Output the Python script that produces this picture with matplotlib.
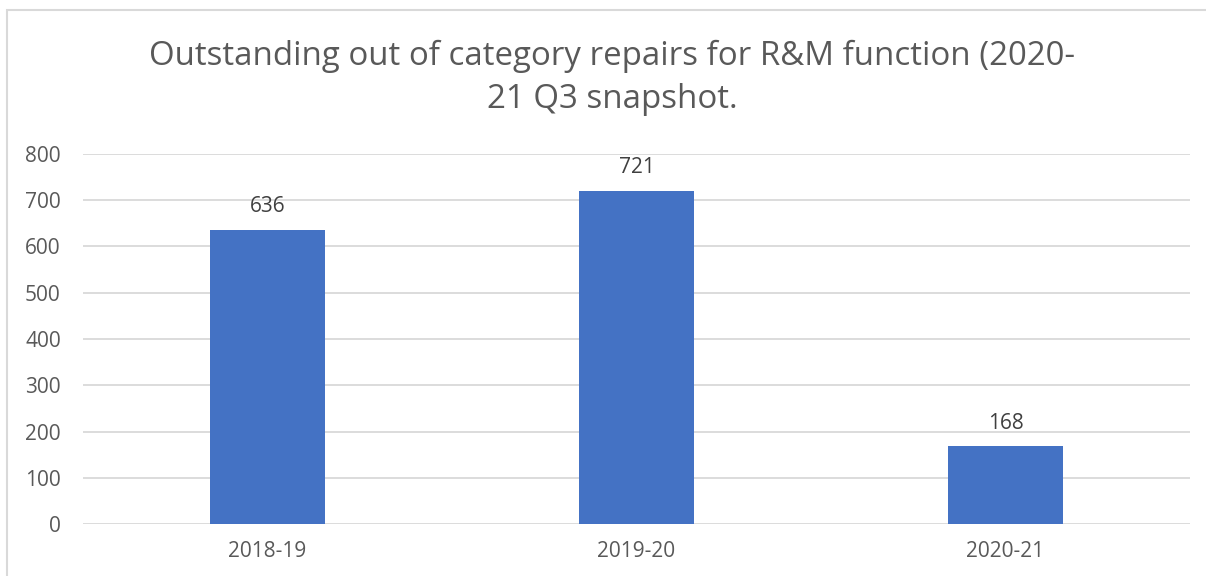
import matplotlib
matplotlib.use("Agg")
import matplotlib.pyplot as plt
from matplotlib.patches import Rectangle

categories = ["2018-19", "2019-20", "2020-21"]
values = [636, 721, 168]
title = "Outstanding out of category repairs for R&M function (2020-\n21 Q3 snapshot."

plt.rcParams['font.family'] = ['Open Sans', 'DejaVu Sans']
W, H = 1206, 576
fig = plt.figure(figsize=(W/100, H/100), dpi=100)
fig.patch.set_facecolor('white')

# chart border (partially cropped)
fig.add_artist(Rectangle((7/W, -0.1), 1.2, (H-10)/H + 0.1, transform=fig.transFigure,
                         fill=False, edgecolor='#D9D9D9', linewidth=1.5))

ax = fig.add_axes([83/W, 1-524/H, (1190-83)/W, (524-154)/H])
x = range(len(categories))
bars = ax.bar(x, values, width=0.31, color='#4472C4', zorder=3)
ax.set_xlim(-0.5, 2.5)
ax.set_ylim(0, 800)
ax.set_yticks(range(0, 801, 100))
ax.set_xticks(list(x))
ax.set_xticklabels(categories)
ax.grid(axis='y', color='#D9D9D9', linewidth=1.3, zorder=0)
for s in ax.spines.values():
    s.set_visible(False)
ax.tick_params(length=0, labelsize=15, colors='#595959')
ax.tick_params(axis='y', pad=16)
ax.tick_params(axis='x', pad=12)
for xi, v in zip(x, values):
    ax.annotate(str(v), (xi, v), xytext=(0, 9), textcoords='offset points',
                ha='center', va='bottom', fontsize=15, color='#404040')

fig.text(612/W, 1-78/H, title, ha='center', va='center', fontsize=23.8,
         color='#595959', linespacing=1.4)

fig.savefig('out.png', dpi=100)
